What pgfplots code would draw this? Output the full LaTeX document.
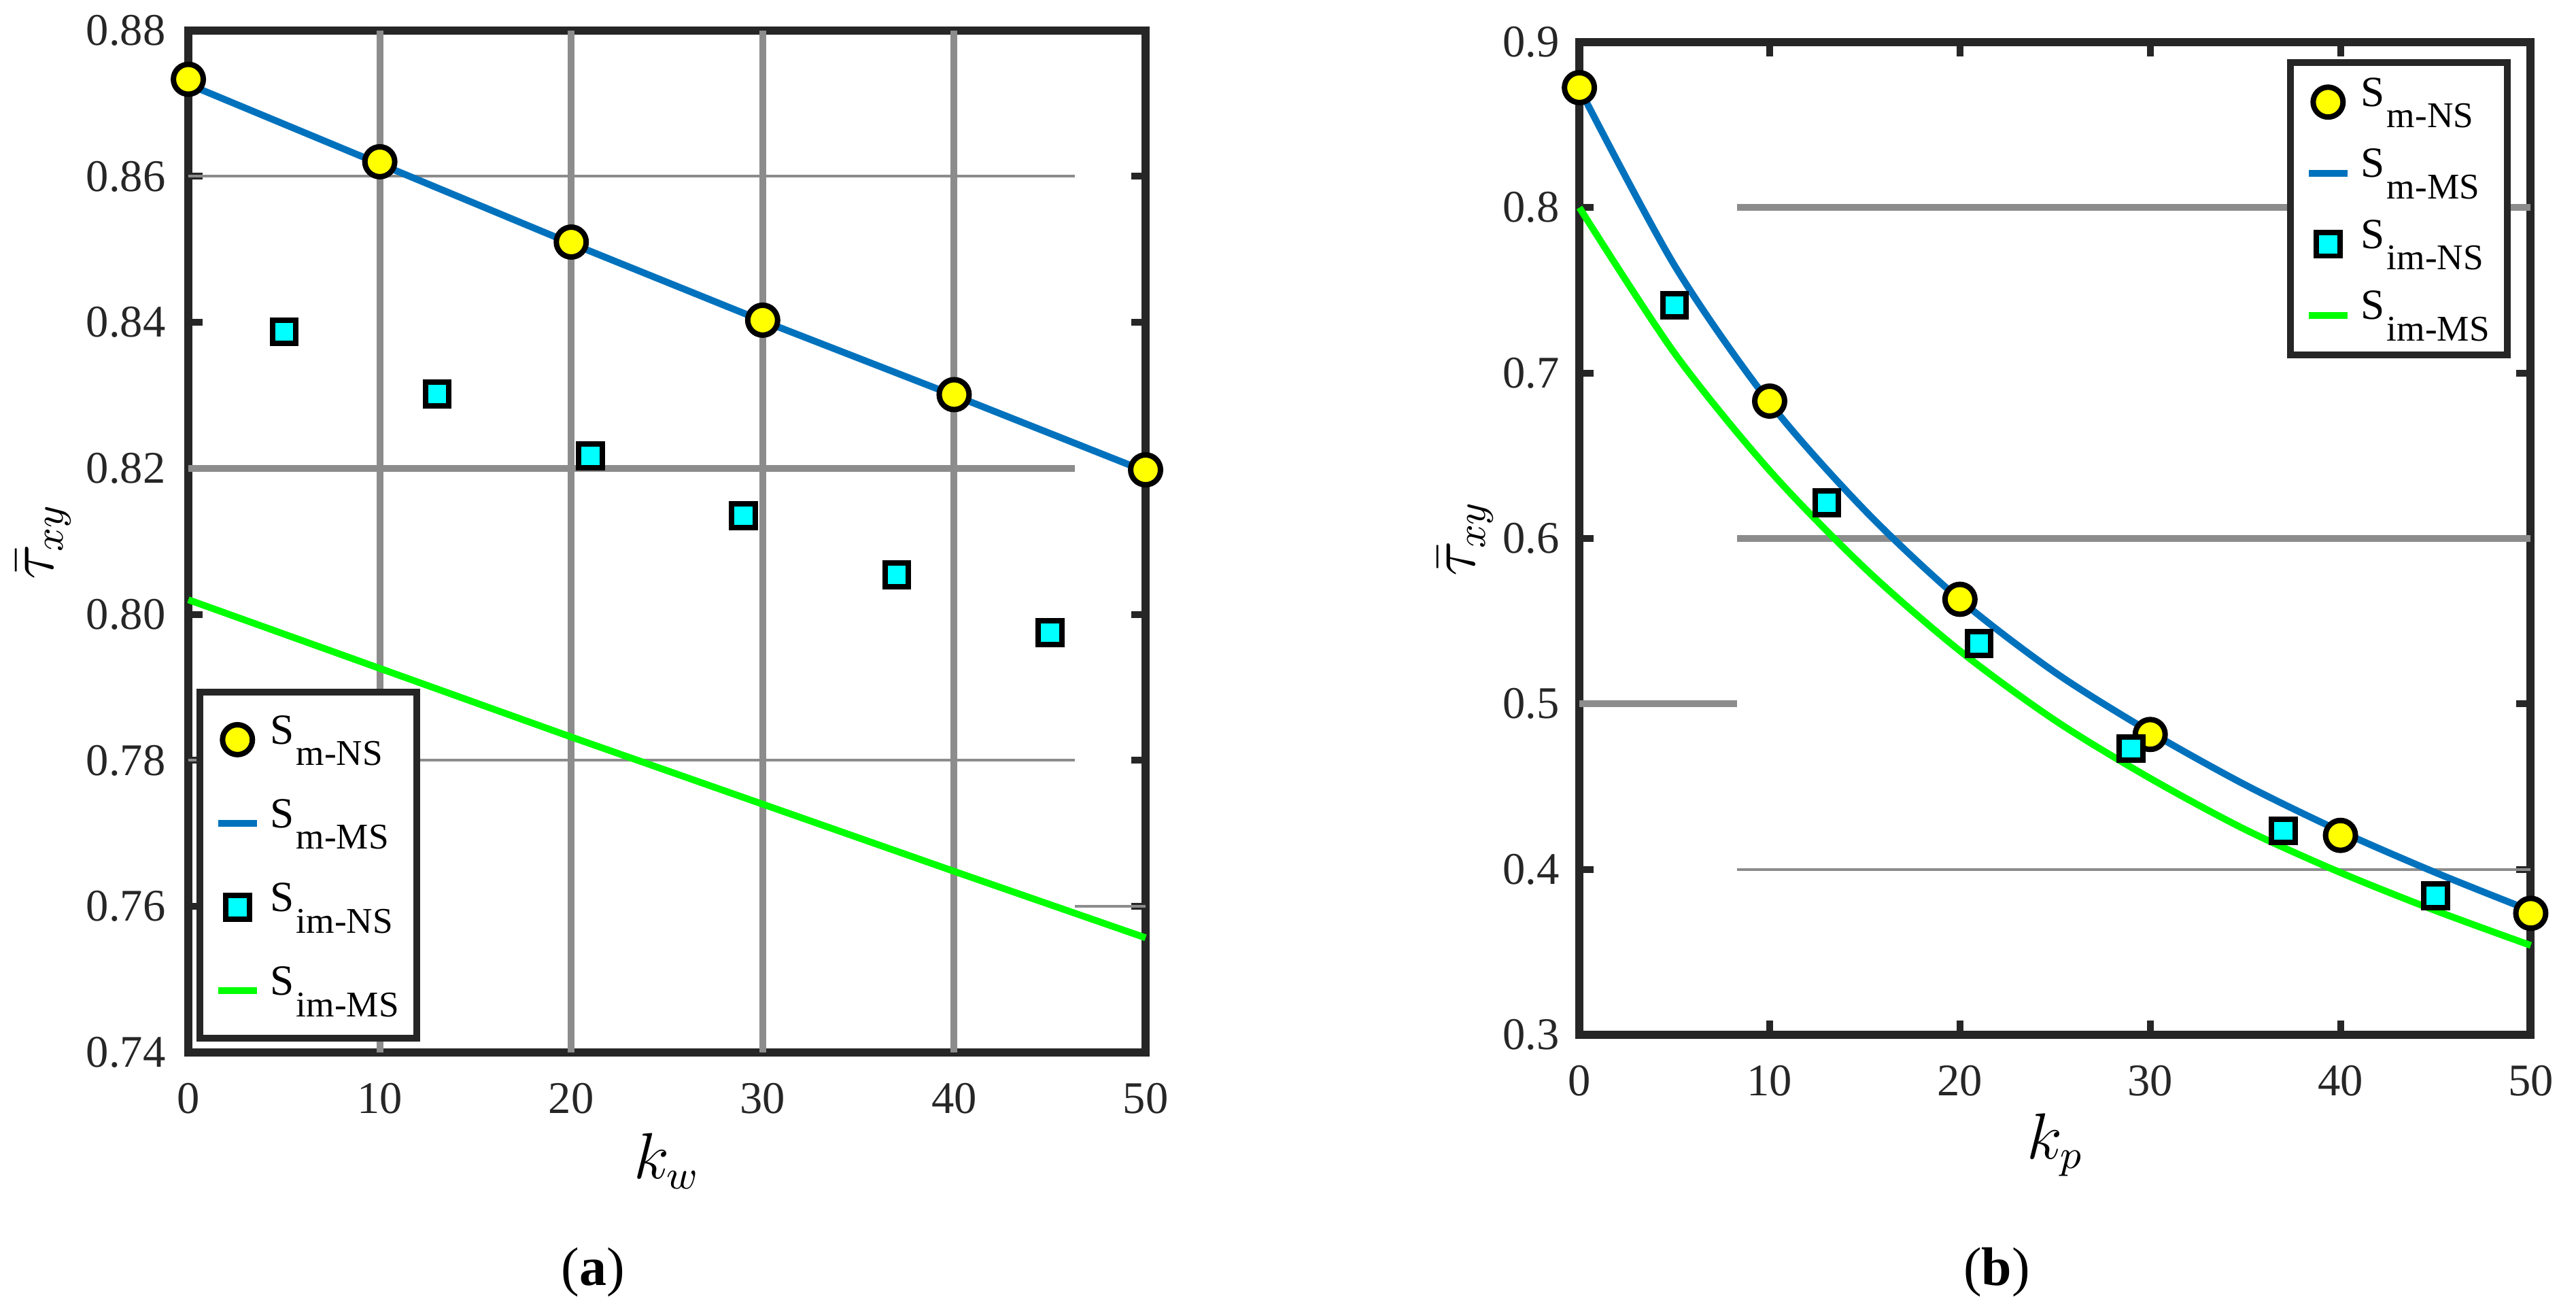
\documentclass[border=0pt]{standalone}
\usepackage{fontspec}
\setmainfont{Liberation Serif}
\usepackage{pgfplots}
\pgfplotsset{compat=1.18}
\definecolor{axcol}{HTML}{262626}
\definecolor{gridcol}{HTML}{8C8C8C}
\definecolor{mblue}{HTML}{0072BD}
\definecolor{mgreen}{HTML}{00FF00}
\definecolor{myellow}{HTML}{FFFF00}
\definecolor{mcyan}{HTML}{00FFFF}
\newcommand\Ss[1]{S\hspace{0.4pt}\raisebox{-4.75pt}{\fontsize{8}{9}\selectfont #1}}
\pgfplotsset{
  myaxis/.style={
    scale only axis, clip=false,
    xmin=0, xmax=50, xtick={0,10,20,30,40,50},
    xticklabels={0,10,20,30,40,50},
    axis line style={axcol, line width=1.8pt, line cap=rect},
    tick style={axcol, line width=1.5pt},
    major tick length=3.2pt, tick align=inside, xtick pos=both, ytick pos=both,
    tick label style={font=\fontsize{10}{12}\selectfont, text=axcol},
    xticklabel style={yshift=-3.3pt},
    xlabel style={font=\fontsize{13.4}{15}\selectfont, anchor=center},
    ylabel style={font=\fontsize{13.3}{15}\selectfont, anchor=center},
    legend cell align=left,
    legend style={draw=axcol, line width=1.5pt, fill=white,
      font=\fontsize{9.5}{11}\selectfont, inner xsep=4pt, column sep=3pt,
      nodes={inner xsep=0pt, text height=6.6pt, text depth=4.75pt}},
  },
  limg/.style={legend image code/.code={\path[draw=none,fill=none] (0pt,-3pt) rectangle (8.6pt,3pt);
      \draw[overlay,mark repeat=2,mark phase=2,##1] plot coordinates {(0pt,0pt) (4.3pt,0pt) (8.6pt,0pt)};}},
  gthick/.style={gridcol, line width=1.5pt, forget plot},
  gthin/.style={gridcol, line width=0.6pt, forget plot},
  circ/.style={only marks, mark=*, mark size=3.3pt, mark options={fill=myellow, draw=black, line width=1.2pt}, limg},
  sq/.style={only marks, mark=square*, mark size=2.6pt, mark options={fill=mcyan, draw=black, line width=1.2pt}, limg},
  bline/.style={mblue, line width=1.5pt, no marks, limg},
  gline/.style={mgreen, line width=1.5pt, no marks, limg},
}
\begin{document}
\begin{tikzpicture}
\useasboundingbox (0,0) rectangle (568.9pt,287.4pt);
% ---------------- (a) ----------------
\begin{axis}[myaxis,
  at={(41.6pt,55.0pt)}, anchor=south west,
  width=211.4pt, height=225.7pt,
  ymin=0.74, ymax=0.88,
  ytick={0.74,0.76,0.78,0.80,0.82,0.84,0.86,0.88},
  yticklabels={0.74,0.76,0.78,0.80,0.82,0.84,0.86,0.88},
  yticklabel style={xshift=-1.5pt},
  xlabel={$k_w$}, ylabel={$\bar{\tau}_{xy}$},
  xlabel style={at={(axis description cs:0.5,-0.1063)}},
  ylabel style={at={(axis description cs:-0.151,0.5)}},
  legend style={at={(axis description cs:0.0085,0.0106)}, anchor=south west,
    inner ysep=1.2pt, nodes={inner ysep=3.57pt}},
]
\addplot[gthick] coordinates {(10,0.74) (10,0.88)};
\addplot[gthick] coordinates {(20,0.74) (20,0.88)};
\addplot[gthick] coordinates {(30,0.74) (30,0.88)};
\addplot[gthick] coordinates {(40,0.74) (40,0.88)};
\addplot[gthin] coordinates {(0,0.86) (46.3,0.86)};
\addplot[gthick] coordinates {(0,0.82) (46.3,0.82)};
\addplot[gthin] coordinates {(0,0.78) (46.3,0.78)};
\addplot[gthin] coordinates {(46.3,0.76) (50,0.76)};
\addplot[circ] coordinates {(0,0.8733) (10,0.8620) (20,0.8510) (30,0.8403) (40,0.8301) (50,0.8198)};
\addlegendentry{\Ss{m-NS}}
\addplot[bline] coordinates {(0,0.8726) (10,0.8617) (20,0.8508) (30,0.8402) (40,0.8300) (50,0.8196)};
\addlegendentry{\Ss{m-MS}}
\addplot[sq] coordinates {(5,0.8387) (13,0.8302) (21,0.8217) (29,0.8135) (37,0.8054) (45,0.7975)};
\addlegendentry{\Ss{im-NS}}
\addplot[gline] coordinates {(0,0.8020) (10,0.7926) (20,0.7832) (30,0.7740) (40,0.7648) (50,0.7557)};
\addlegendentry{\Ss{im-MS}}
\end{axis}
% ---------------- (b) ----------------
\begin{axis}[myaxis,
  at={(348.8pt,58.9pt)}, anchor=south west,
  width=210.1pt, height=219.2pt,
  ymin=0.3, ymax=0.9,
  ytick={0.3,0.4,0.5,0.6,0.7,0.8,0.9},
  yticklabels={0.3,0.4,0.5,0.6,0.7,0.8,0.9},
  yticklabel style={xshift=-0.9pt},
  xlabel={$k_p$}, ylabel={$\bar{\tau}_{xy}$},
  xlabel style={at={(axis description cs:0.5,-0.111)}},
  ylabel style={at={(axis description cs:-0.1195,0.5)}},
  legend style={at={(axis description cs:0.9793,0.9829)}, anchor=north east,
    inner ysep=0.9pt, nodes={inner ysep=2.17pt}},
]
\addplot[gthick] coordinates {(8.3,0.8) (50,0.8)};
\addplot[gthick] coordinates {(8.3,0.6) (50,0.6)};
\addplot[gthick] coordinates {(0,0.5) (8.3,0.5)};
\addplot[gthin] coordinates {(8.3,0.4) (50,0.4)};
\addplot[circ] coordinates {(0,0.8725) (10,0.6830) (20,0.5632) (30,0.4815) (40,0.4205) (50,0.3734)};
\addlegendentry{\Ss{m-NS}}
\addplot[bline, smooth] coordinates {(0,0.872) (5,0.765) (10,0.682) (15,0.617) (20,0.563) (25,0.519) (30,0.483) (35,0.451) (40,0.423) (45,0.398) (50,0.375)};
\addlegendentry{\Ss{m-MS}}
\addplot[sq] coordinates {(5,0.741) (13,0.6215) (21,0.5365) (29,0.473) (37,0.4232) (45,0.3840)};
\addlegendentry{\Ss{im-NS}}
\addplot[gline, smooth] coordinates {(0,0.800) (5,0.712) (10,0.641) (15,0.582) (20,0.532) (25,0.490) (30,0.455) (35,0.424) (40,0.398) (45,0.375) (50,0.354)};
\addlegendentry{\Ss{im-MS}}
\end{axis}
\node[font=\fontsize{12}{14}\selectfont, anchor=base] at (131.0pt,3.5pt) {(\textbf{a})};
\node[font=\fontsize{12}{14}\selectfont, anchor=base] at (441.0pt,3.5pt) {(\textbf{b})};
\end{tikzpicture}
\end{document}
